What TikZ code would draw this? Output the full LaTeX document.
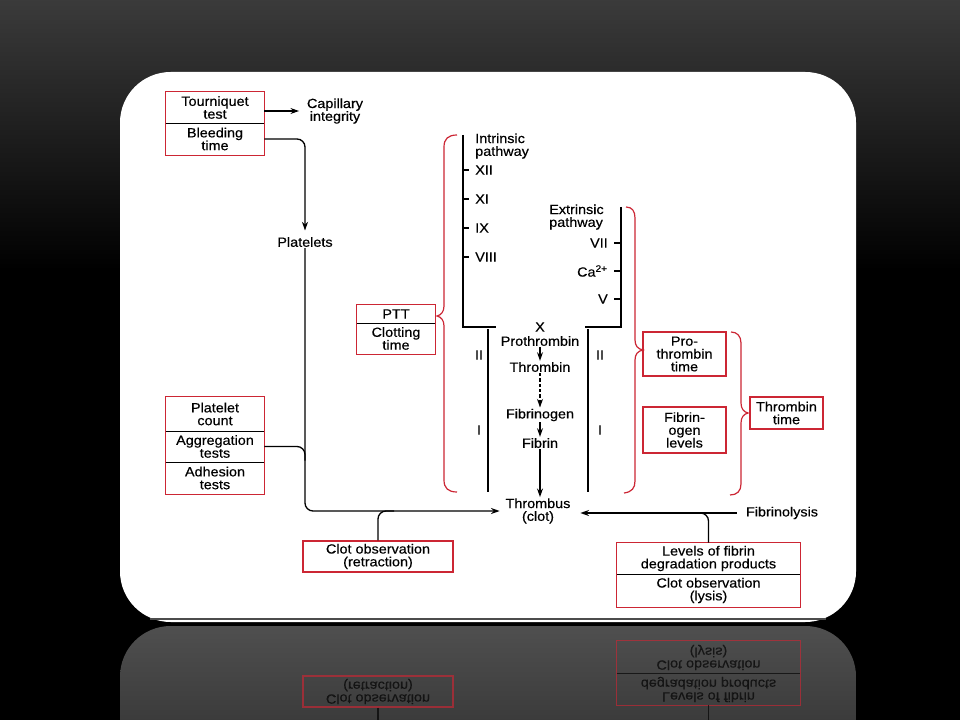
\documentclass[tikz,border=0pt]{standalone}
\usepackage{fontspec}
\setmainfont{Liberation Sans}[FakeStretch=1.08,FakeBold=0.4]
\usetikzlibrary{arrows.meta,calc}
\definecolor{boxred}{RGB}{204,38,52}

\begin{document}
\begin{tikzpicture}[x=0.75pt,y=0.75pt,yscale=-1,xscale=1,
    txt/.style={font=\fontsize{10}{9.6}\selectfont, align=center, inner sep=0.75pt},
    cell/.style={txt, inner sep=0pt, minimum width=#1},
    redcell/.style={cell=#1, draw=boxred, line width=0.8pt},
    frame/.style={draw=boxred, line width=0.8pt},
    divider/.style={draw=black, line width=0.9pt},
    pathline/.style={line width=1.1pt},
    link/.style={line width=1pt},
    arr/.style={link, -{Stealth[length=6.5pt,width=4.5pt]}},
    brace/.style={draw=boxred, line width=0.9pt}]
        \useasboundingbox (0,0) rectangle (960,720);
        \clip (0,0) rectangle (960,720);

        %Background
        \fill [black] (0,0) rectangle (960,720);
        \shade [top color=gray!46!black, bottom color=black] (0,0) rectangle (960,270);
        %Shape: Reflected card
        \shade [top color=gray!62!black, bottom color=gray!30!black, rounded corners=38] (120,626) rectangle (856,820);
        %Shape: Card
        \fill [white, rounded corners=38] (120,72) rectangle (856,622);
        \draw [black!70, line width=0.8pt] (150,619) -- (826,619);

        % Text Node
        \draw (215,107.5) node [cell=73.5pt, minimum height=23.25pt] (tq) {Tourniquet\\test};
        % Text Node
        \draw (215,139) node [cell=73.5pt, minimum height=24pt] (bt) {Bleeding\\time};
        \draw [frame] (tq.north west) rectangle (bt.south east);
        \draw [divider] (tq.south west) -- (tq.south east);
        % Text Node
        \draw (335,111) node [txt] (cap) {Capillary\\integrity};
        % Text Node
        \draw (305,242) node [txt] (plt) {Platelets};

        % Text Node
        \draw (215,414) node [cell=73.5pt, minimum height=25.5pt] (pc) {Platelet\\count};
        % Text Node
        \draw (215,446.5) node [cell=73.5pt, minimum height=23.25pt] (ag) {Aggregation\\tests};
        % Text Node
        \draw (215,478) node [cell=73.5pt, minimum height=24pt] (ad) {Adhesion\\tests};
        \draw [frame] (pc.north west) rectangle (ad.south east);
        \draw [divider] (pc.south west) -- (pc.south east);
        \draw [divider] (ag.south west) -- (ag.south east);

        % Text Node
        \draw (396,314) node [cell=58.5pt, minimum height=13.5pt] (ptt) {PTT};
        % Text Node
        \draw (396,338.5) node [cell=58.5pt, minimum height=23.25pt] (ct) {Clotting\\time};
        \draw [frame] (ptt.north west) rectangle (ct.south east);
        \draw [divider] (ptt.south west) -- (ptt.south east);

        % Text Node
        \draw (684.5,354) node [redcell=62.25pt, minimum height=33pt] (ptm) {Pro-\\thrombin\\time};
        % Text Node
        \draw (684.5,430) node [redcell=62.25pt, minimum height=34.5pt] (fgl) {Fibrin-\\ogen\\levels};
        % Text Node
        \draw (786.5,413) node [redcell=54.75pt, minimum height=24pt] (ttm) {Thrombin\\time};

        % Text Node
        \draw (378,556.5) node [redcell=112.5pt, minimum height=23.25pt] (cr) {Clot observation\\(retraction)};
        % Text Node
        \draw (708.5,558.5) node [cell=137.25pt, minimum height=23.25pt] (lf) {Levels of fibrin\\degradation products};
        % Text Node
        \draw (708.5,590.5) node [cell=137.25pt, minimum height=24.75pt] (co) {Clot observation\\(lysis)};
        \draw [frame] (lf.north west) rectangle (co.south east);
        \draw [divider] (lf.south west) -- (lf.south east);

        % Text Node
        \draw (538,511) node [txt] (thr) {Thrombus\\(clot)};
        % Text Node
        \draw (782,513) node [txt] (fbl) {Fibrinolysis};

        % Text Node
        \draw (474,146) node [txt, anchor=west, align=left] (int) {Intrinsic\\pathway};
        % Text Node
        \draw (548,217) node [txt, anchor=west, align=left] (ext) {Extrinsic\\pathway};

        %Straight Lines
        \draw [pathline] (463,135) -- (463,327) -- (496,327);
        \draw [pathline] (488,329) -- (488,492);
        \draw [pathline] (621,207) -- (621,327) -- (585,327);
        \draw [pathline] (588,329) -- (588,492);
        \foreach \y/\f in {170/XII,199/XI,228/IX,257/VIII} {
            \draw [link] (463,\y) -- (469,\y);
            \draw (474,\y) node [txt, anchor=west] (f\f) {\f};
        }
        \foreach \y/\f/\n in {243/VII/VII,271/Ca\textsuperscript{2+}/Ca,299/V/V} {
            \draw [link] (614,\y) -- (621,\y);
            \draw (609,\y) node [txt, anchor=east] (f\n) {\f};
        }
        % Text Node
        \draw (479,355) node [txt] (iII) {II};
        \draw (479,430) node [txt] (iI) {I};
        \draw (600,355) node [txt] (eII) {II};
        \draw (600,430) node [txt] (eI) {I};

        % Text Node
        \draw (540,327) node [txt] (fx) {X};
        \draw (540,341) node [txt] (pro) {Prothrombin};
        \draw (540,367) node [txt] (thb) {Thrombin};
        \draw (540,415) node [txt] (fbg) {Fibrinogen};
        \draw (540,443) node [txt] (fbn) {Fibrin};

        %Arrows
        \draw [arr] (pro) -- (thb);
        \draw [arr, dash pattern={on 2.5pt off 1.5pt}] (thb) -- (fbg);
        \draw [arr] (fbg) -- (fbn);
        \draw [arr] (fbn) -- (fbn |- thr.north);
        \draw [arr, shorten >=5pt] (tq.east |- cap.west) -- (cap.west);
        \draw [arr, rounded corners=6, shorten >=4pt] (bt.east) -| (plt.north);
        \draw [arr, rounded corners=6, shorten >=3.5pt] (plt.south) |- (thr.west);
        \draw [link, rounded corners=6] (ag.east) -| ($(ag.east -| plt.south)+(0,14)$);
        \draw [link, rounded corners=6] (cr.north) |- ($(cr.north |- thr.west)+(16,0)$);
        \draw [arr, shorten <=6pt, shorten >=6.5pt] (fbl.west) -- (fbl.west -| thr.east);
        \draw [link, rounded corners=6] (lf.north) |- ($(lf.north |- fbl.west)+(-16,0)$);

        %Braces
        \draw [brace] (457,135) .. controls (448,135) and (444,139) .. (444,147) -- (444,306) .. controls (444,312) and (441,315) .. (437,316) .. controls (441,317) and (444,320) .. (444,326) -- (444,480) .. controls (444,488) and (448,492) .. (457,492);
        \draw [brace] (626,207) .. controls (632,207) and (635,211) .. (635,218) -- (635,340) .. controls (635,346) and (638,349) .. (643,350) .. controls (638,351) and (635,354) .. (635,360) -- (635,481) .. controls (635,488) and (632,492) .. (624,493);
        \draw [brace] (731,332) .. controls (737,332) and (741,336) .. (741,343) -- (741,403) .. controls (741,409) and (744,412) .. (748,413) .. controls (744,414) and (741,417) .. (741,423) -- (741,484) .. controls (741,491) and (737,495) .. (730,495);

        %Reflection
        \begin{scope}[shift={(0,1248)}, yscale=-1, opacity=0.65]
            \draw (378,556.5) node [redcell=112.5pt, minimum height=23.25pt, yscale=-1] (rcr) {Clot observation\\(retraction)};
            \draw (708.5,558.5) node [cell=137.25pt, minimum height=23.25pt, yscale=-1] (rlf) {Levels of fibrin\\degradation products};
            \draw (708.5,590.5) node [cell=137.25pt, minimum height=24.75pt, yscale=-1] (rco) {Clot observation\\(lysis)};
            \draw [frame] (rlf.north west) rectangle (rco.south east);
            \draw [divider] (rlf.south west) -- (rlf.south east);
            \draw [link] (rcr.north) -- ++(0,-40);
            \draw [link] (rlf.north) -- ++(0,-40);
        \end{scope}

    \end{tikzpicture}
\end{document}
